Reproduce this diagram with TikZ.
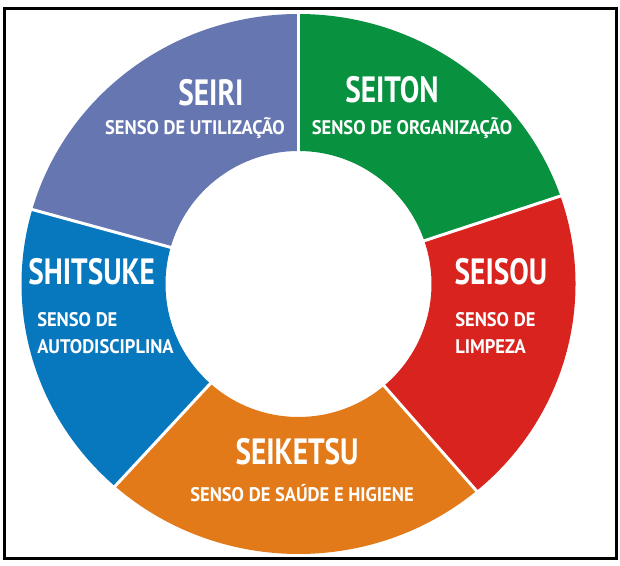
\documentclass[tikz,border=0pt]{standalone}
\usepackage{fontspec}
\setmainfont{PT Sans}
\newfontfamily\headfont{PT Sans}[FakeStretch=0.80]
\newfontfamily\sensofont{PT Sans}[FakeStretch=0.94]
\usetikzlibrary{positioning}
\definecolor{cseiri}{HTML}{6676B1}
\definecolor{cseiton}{HTML}{08913F}
\definecolor{cseisou}{HTML}{D8231F}
\definecolor{cseiketsu}{HTML}{E27A1A}
\definecolor{cshitsuke}{HTML}{0777BE}
\begin{document}
\begin{tikzpicture}[
    x=0.025cm, y=0.025cm,
    frame/.style={draw=black, line width=0.075cm},
    cut/.style={draw=white, line width=0.075cm},
    senso/.style={text=white, font=\sensofont\bfseries\fontsize{14}{19}\selectfont,
                  inner sep=0pt},
    nome/.style={text=white, font=\headfont\bfseries\fontsize{26}{28}\selectfont,
                 inner sep=0pt},
  ]
  % same canvas as the screenshot, 1 unit = 1 pixel
  \path[use as bounding box] (0,0) rectangle (620,566);
  \draw[frame] (4.5,7.5) rectangle (616.5,557.5);
  % == the ring, five parts (not quite equal in the original)
  \begin{scope}[shift={(298.5,282)}]
    \foreach \from/\to/\col in {90/164/cseiri, 19/90/cseiton, -50/19/cseisou,
                                -131.5/-50/cseiketsu, 164/228.5/cshitsuke}{
      \fill[\col] (\from:277 and 270) arc[start angle=\from, end angle=\to,
                                          x radius=277, y radius=270]
        -- (\to:133) arc[start angle=\to, end angle=\from, radius=133] -- cycle;
    }
    % white gaps between the parts
    \foreach \a in {90,19,-50,-131.5,164}
      \draw[cut] (\a:130) -- (\a:280 and 273);
  \end{scope}
  % == names and meanings
  \node[nome] (seiri) at (211,473) {SEIRI};
  \node[senso] (seiriS) at (195,438) {SENSO DE UTILIZAÇÃO};
  \node[nome] (seiton) at (392,476) {SEITON};
  \node[senso] (seitonS) at (412,438) {SENSO DE ORGANIZAÇÃO};
  \node[nome, anchor=west] (shitsuke) at (28,294) {SHITSUKE};
  \node[senso, anchor=west, align=left] (shitsukeS) at (37,233)
    {SENSO DE\\AUTODISCIPLINA};
  \node[nome] (seisou) at (501,294) {SEISOU};
  \node[senso, anchor=west, align=left] (seisouS) at (455,233)
    {SENSO DE\\LIMPEZA};
  \node[nome] (seiketsu) at (297,114) {SEIKETSU};
  \node[senso] (seiketsuS) at (302,73) {SENSO DE SAÚDE E HIGIENE};
\end{tikzpicture}
\end{document}
